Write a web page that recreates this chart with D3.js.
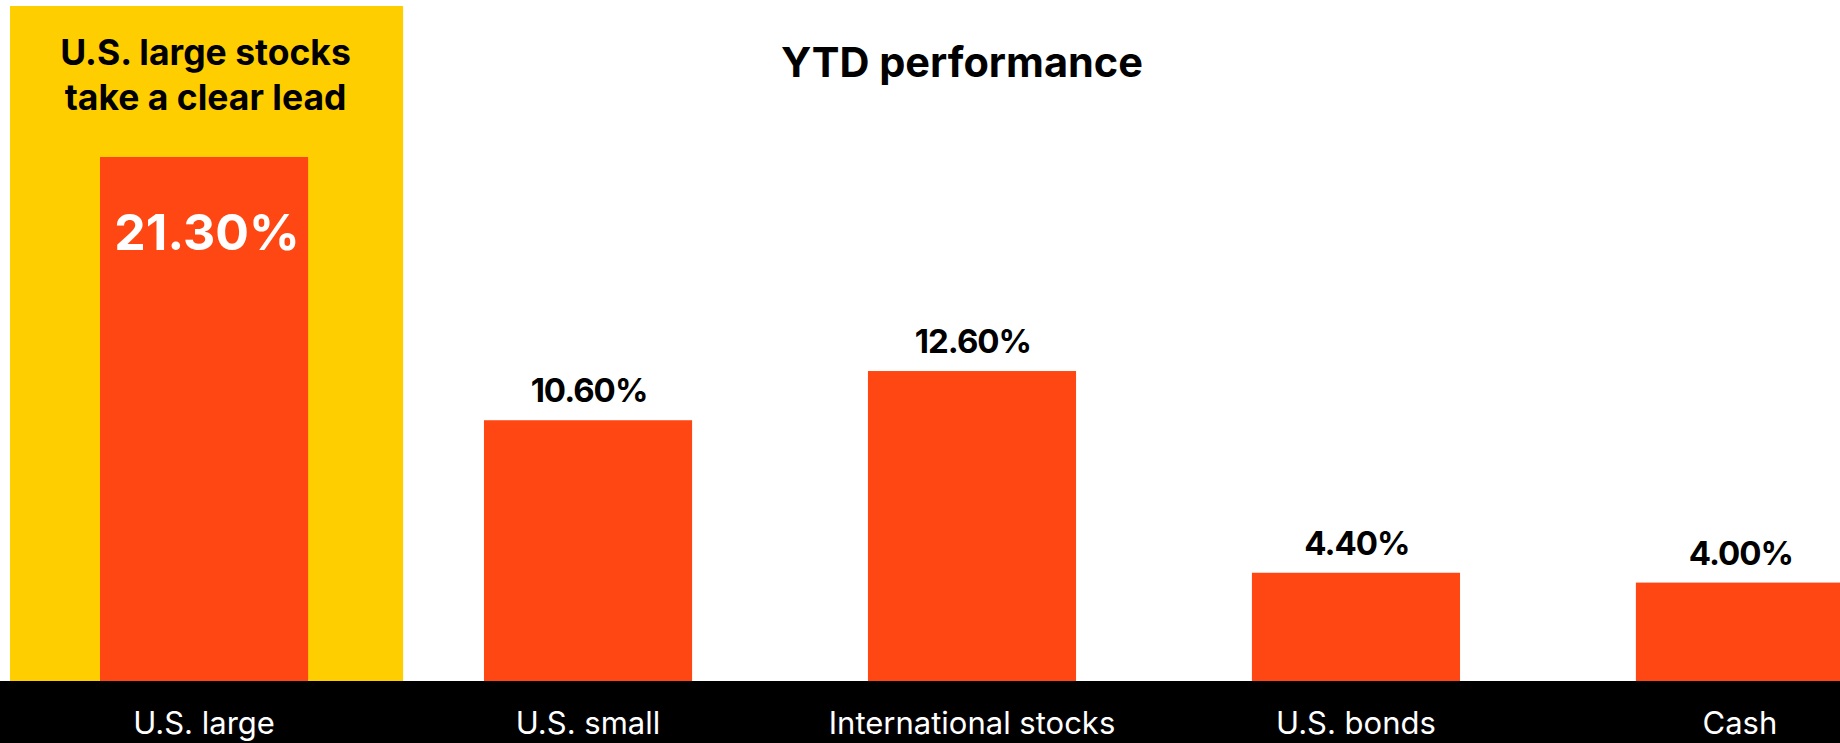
<!DOCTYPE html>
<html>
<head>
<meta charset="utf-8">
<script src="https://cdn.jsdelivr.net/npm/d3@7/dist/d3.min.js"></script>
<style>
  html, body { margin: 0; padding: 0; background: #fff; }
  svg { display: block; }
  text { font-family: Inter, "Noto Sans", sans-serif; }
</style>
</head>
<body>
<svg id="chart" width="1840" height="743"></svg>
<script>
const categories = ["U.S. large", "U.S. small", "International stocks", "U.S. bonds", "Cash"];
const values = [21.3, 10.6, 12.6, 4.4, 4.0];
const valueLabels = ["21.30%", "10.60%", "12.60%", "4.40%", "4.00%"];
const title = "YTD performance";
const highlightLines = ["U.S. large stocks", "take a clear lead"];

const W = 1840, H = 743;
const baseY = 681;
const svg = d3.select("#chart");

const x = d3.scaleBand().domain(categories).range([100, 1844]).paddingInner(0.458).paddingOuter(0);
const y = d3.scaleLinear().domain([0, 21.3]).range([baseY, 157]);

// highlight panel
const hx = x(categories[0]);
svg.append("rect")
  .attr("x", hx - 90).attr("y", 6)
  .attr("width", x.bandwidth() + 185).attr("height", baseY - 6)
  .attr("fill", "#FFCE00");

highlightLines.forEach((t, i) => {
  svg.append("text")
    .attr("x", hx - 90 + (x.bandwidth() + 185) / 2 - 1)
    .attr("y", 65 + i * 45)
    .attr("text-anchor", "middle")
    .attr("font-size", 35.5)
    .attr("font-weight", 700)
    .attr("fill", "#000")
    .text(t);
});

// title
svg.append("text")
  .attr("x", 962).attr("y", 77)
  .attr("text-anchor", "middle")
  .attr("font-size", 41.5)
  .attr("font-weight", 700)
  .attr("fill", "#000")
  .text(title);

// bars
svg.selectAll("rect.bar").data(categories).join("rect")
  .attr("class", "bar")
  .attr("x", d => x(d))
  .attr("y", (d, i) => y(values[i]))
  .attr("width", x.bandwidth())
  .attr("height", (d, i) => baseY - y(values[i]) + 1)
  .attr("fill", "#FF4713");

// value labels
svg.selectAll("text.val").data(categories).join("text")
  .attr("class", "val")
  .attr("x", (d, i) => x(d) + x.bandwidth() / 2 + (i === 0 ? 3 : 1))
  .attr("y", (d, i) => i === 0 ? 250 : y(values[i]) - 18)
  .attr("text-anchor", "middle")
  .attr("font-family", (d, i) => i === 0 ? "Inter, sans-serif" : "Roboto, sans-serif")
  .attr("font-size", (d, i) => i === 0 ? 50 : 33)
  .attr("font-weight", 700)
  .attr("letter-spacing", (d, i) => i === 0 ? "0px" : "-1px")
  .attr("fill", (d, i) => i === 0 ? "#fff" : "#000")
  .text((d, i) => valueLabels[i]);

// black axis band
svg.append("rect")
  .attr("x", 0).attr("y", baseY)
  .attr("width", W).attr("height", H - baseY)
  .attr("fill", "#000");

const axis = d3.axisBottom(x).tickSize(0).tickPadding(0);
const g = svg.append("g").attr("transform", `translate(0,${baseY})`).call(axis);
g.select(".domain").remove();
g.selectAll("text")
  .attr("y", 53)
  .attr("dy", 0)
  .attr("font-size", 31)
  .attr("font-family", "Inter, 'Noto Sans', sans-serif")
  .attr("fill", "#fff");
</script>
</body>
</html>
